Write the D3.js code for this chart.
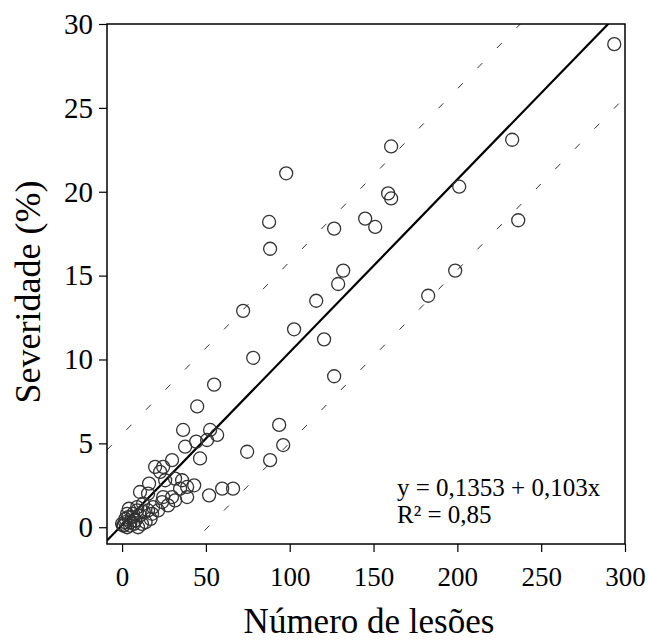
<!DOCTYPE html>
<html>
<head>
<meta charset="utf-8">
<script src="https://cdn.jsdelivr.net/npm/d3@7"></script>
<style>
  body { margin: 0; background: #fff; }
  svg text { font-family: "Liberation Serif", "Times New Roman", serif; fill: #000; }
</style>
</head>
<body>
<script>
// valores (Número de lesões x Severidade)
var lesoes = [293.6, 232.7, 160.5, 97.9, 201.1, 158.7, 160.5, 145.0, 87.7, 236.3,
  151.0, 126.5, 88.3, 131.9, 198.7, 128.9, 115.8, 182.6, 72.2, 102.6,
  120.5, 78.2, 126.5, 54.9, 93.7, 44.8, 36.4, 96.1, 88.3, 74.6,
  52.5, 56.7, 50.7, 44.2, 37.6, 46.5, 66.2, 59.7, 51.9, 34.6,
  29.8, 19.7, 24.5, 22.7, 25.7, 31.6, 35.8, 38.8, 43.0, 16.1,
  10.7, 15.5, 38.8, 29.8, 23.9, 27.4, 18.5, 12.5, 9.0, 3.6,
  1.8, 0.6, 4.8, 7.8, 10.7, 11.9, 17.9, 21.5, 6.6, 15.5,
  9.5, 3.0, 0.0, 31.6, 24.5, 2.0, 5.0, 3.0, 6.0, 8.0,
  14.0, 17.0, 4.0, 13.0, 9.0, 1.0, 7.0];
var severidade = [28.8, 23.1, 22.7, 21.1, 20.3, 19.9, 19.6, 18.4, 18.2, 18.3,
  17.9, 17.8, 16.6, 15.3, 15.3, 14.5, 13.5, 13.8, 12.9, 11.8,
  11.2, 10.1, 9.0, 8.5, 6.1, 7.2, 5.8, 4.9, 4.0, 4.5,
  5.8, 5.5, 5.2, 5.1, 4.8, 4.1, 2.3, 2.3, 1.9, 2.3,
  4.0, 3.6, 3.6, 3.3, 2.8, 2.9, 2.8, 2.4, 2.5, 2.6,
  2.1, 2.0, 1.8, 1.8, 1.5, 1.3, 1.2, 1.4, 1.0, 0.6,
  0.3, 0.1, 0.1, 0.4, 0.7, 0.2, 0.8, 1.0, 0.8, 1.0,
  0.0, 0.0, 0.2, 1.6, 1.8, 0.5, 0.3, 0.8, 0.6, 0.4,
  0.3, 0.5, 1.1, 0.9, 1.2, 0.1, 0.2];

var xTicks = [0, 50, 100, 150, 200, 250, 300];
var yTicks = [0, 5, 10, 15, 20, 25, 30];

// reta ajustada e limites
var intercepto = 0.1353, inclinacao = 0.103, faixa = 5.4;

var margin = {top: 24, right: 23, bottom: 99, left: 107};
var width = 648 - margin.left - margin.right;
var height = 643 - margin.top - margin.bottom;

var svg = d3.select("body").append("svg")
    .attr("width", 648)
    .attr("height", 643);

var g = svg.append("g")
    .attr("transform", "translate(" + margin.left + "," + margin.top + ")");

var x = d3.scaleLinear().domain([-9, 300]).range([0, width]);
var y = d3.scaleLinear().domain([-1, 30]).range([height, 0]);

g.append("clipPath").attr("id", "area")
  .append("rect").attr("width", width).attr("height", height);

var plot = g.append("g").attr("clip-path", "url(#area)");

var linha = d3.line()
    .x(function(d) { return x(d[0]); })
    .y(function(d) { return y(d[1]); });

function reta(off) {
  return [-9, 300].map(function(v) { return [v, intercepto + off + inclinacao * v]; });
}

[faixa, -faixa].forEach(function(off) {
  plot.append("path")
    .attr("d", linha(reta(off)))
    .attr("fill", "none")
    .attr("stroke", "#333")
    .attr("stroke-width", 1)
    .attr("stroke-dasharray", "7,21");
});

plot.append("path")
  .attr("d", linha(reta(0)))
  .attr("fill", "none")
  .attr("stroke", "#000")
  .attr("stroke-width", 2.2);

var pontos = lesoes.map(function(v, i) { return {x: v, y: severidade[i]}; });

g.selectAll(".ponto")
  .data(pontos)
  .enter().append("circle")
  .attr("class", "ponto")
  .attr("cx", function(d) { return x(d.x); })
  .attr("cy", function(d) { return y(d.y); })
  .attr("r", 6.5)
  .attr("fill", "none")
  .attr("stroke", "#333")
  .attr("stroke-width", 1.3);

var xAxis = g.append("g")
  .attr("transform", "translate(0," + height + ")")
  .call(d3.axisBottom(x).tickValues(xTicks).tickSize(8).tickPadding(15));
var yAxis = g.append("g")
  .call(d3.axisLeft(y).tickValues(yTicks).tickSize(8).tickPadding(6));

[xAxis, yAxis].forEach(function(a) {
  a.select(".domain").remove();
  a.selectAll(".tick line").attr("stroke", "#000").attr("stroke-width", 1.2);
});
xAxis.selectAll(".tick text").style("font-size", "27px");
yAxis.selectAll(".tick text").style("font-size", "29px");

g.append("rect")
  .attr("width", width).attr("height", height)
  .attr("fill", "none").attr("stroke", "#000").attr("stroke-width", 1.5);

g.append("text")
  .attr("x", width / 2 + 3).attr("y", height + 89)
  .attr("text-anchor", "middle")
  .style("font-size", "35px")
  .text("Número de lesões");

g.append("text")
  .attr("transform", "translate(" + (-67) + "," + (height / 2 + 8) + ") rotate(-90)")
  .attr("text-anchor", "middle")
  .style("font-size", "36px")
  .text("Severidade (%)");

g.append("text")
  .attr("x", 290).attr("y", 472)
  .style("font-size", "25px")
  .text("y = 0,1353 + 0,103x");
g.append("text")
  .attr("x", 290).attr("y", 499)
  .style("font-size", "25px")
  .text("R² = 0,85");
</script>
</body>
</html>
